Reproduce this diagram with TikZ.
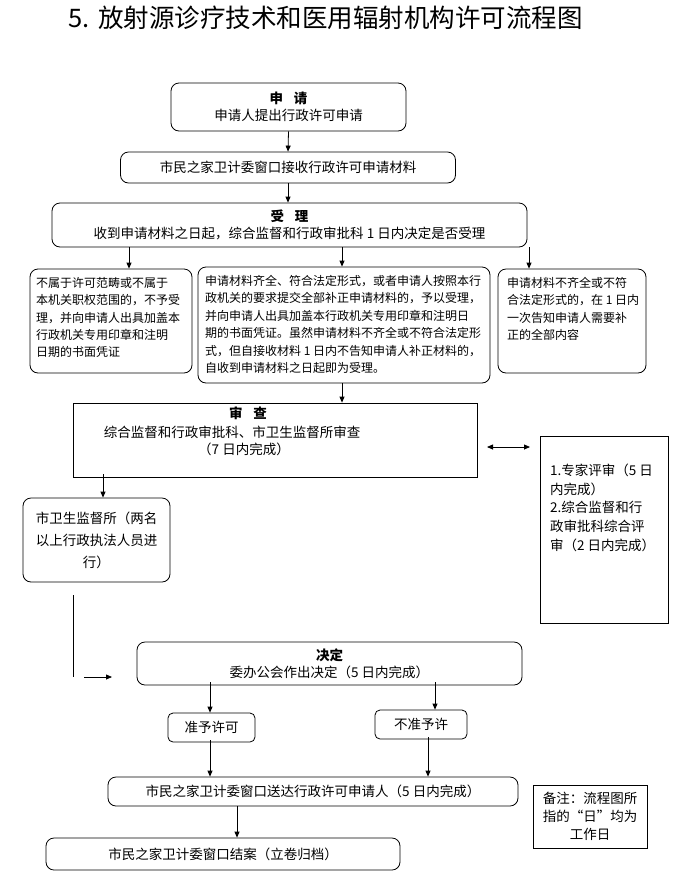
\documentclass[tikz,border=0pt]{standalone}
\usepackage{fontspec}
\setmainfont{Noto Sans CJK SC}
\usetikzlibrary{arrows.meta}
\tikzset{
  box/.style={draw, line width=0.8pt, rounded corners=8pt, inner sep=0pt},
  sbox/.style={draw, line width=0.8pt, inner sep=0pt},
  txt/.style={inner sep=0pt, align=center, font=\fontsize{13.5}{17}\selectfont},
  stxt/.style={inner sep=0pt, align=left, font=\fontsize{12}{17.4}\selectfont},
  arr/.style={line width=0.8pt, -{Triangle[length=6pt,width=5pt]}},
  darr/.style={line width=0.8pt, {Triangle[length=6pt,width=5pt]}-{Triangle[length=6pt,width=5pt]}},
  ln/.style={line width=0.8pt}
}
\begin{document}
\begin{tikzpicture}[x=1pt,y=-1pt]
\useasboundingbox[fill=white] (0,0) rectangle (688,892);

% title
\node[inner sep=0pt, font=\fontsize{25.5}{30}\selectfont] (title) at (325.5,18) {5.\hspace{0.35em}放射源诊疗技术和医用辐射机构许可流程图};

% apply
\node[box, minimum width=235pt, minimum height=48pt, txt] (apply) at (288.5,107)
  {{\bfseries 申\hspace{0.8em}请}\\申请人提出行政许可申请};
% receive
\node[box, minimum width=335pt, minimum height=31pt, txt] (receive) at (288,167.5)
  {市民之家卫计委窗口接收行政许可申请材料};
% accept
\node[box, minimum width=475pt, minimum height=44pt, txt] (accept) at (289.5,225)
  {{\bfseries 受\hspace{0.8em}理}\\收到申请材料之日起，综合监督和行政审批科 1 日内决定是否受理};

% three outcome boxes
\node[box, minimum width=162pt, minimum height=104pt] (left) at (111,321) {};
\node[stxt, anchor=north west] (lefttxt) at (36,277)
  {不属于许可范畴或不属于\\本机关职权范围的，不予受\\理，并向申请人出具加盖本\\行政机关专用印章和注明\\日期的书面凭证};
\node[box, minimum width=292pt, minimum height=116pt] (mid) at (344,325) {};
\node[stxt, anchor=north west] (midtxt) at (205,275)
  {申请材料齐全、符合法定形式，或者申请人按照本行\\政机关的要求提交全部补正申请材料的，予以受理，\\并向申请人出具加盖本行政机关专用印章和注明日\\期的书面凭证。虽然申请材料不齐全或不符合法定形\\式，但自接收材料 1 日内不告知申请人补正材料的，\\自收到申请材料之日起即为受理。};
\node[box, minimum width=148pt, minimum height=104pt] (right) at (572,321) {};
\node[stxt, anchor=north west] (righttxt) at (507,277)
  {申请材料不齐全或不符\\合法定形式的，在 1 日内\\一次告知申请人需要补\\正的全部内容};

% review
\node[sbox, minimum width=404pt, minimum height=74pt] (review) at (275,440) {};
\node[txt, font=\fontsize{13.5}{17}\bfseries] (revhead) at (248,413) {审\hspace{0.8em}查};
\node[txt] (revline) at (232,432) {综合监督和行政审批科、市卫生监督所审查};
\node[txt] (revtime) at (244,449) {（7 日内完成）};

% expert review
\node[sbox, minimum width=128pt, minimum height=187pt] (expert) at (604,529.5) {};
\node[inner sep=0pt, align=left, font=\fontsize{13.5}{18.6}\selectfont, anchor=north west] (experttxt) at (550,464)
  {1.专家评审（5 日\\内完成）\\2.综合监督和行\\政审批科综合评\\审（2 日内完成）};

\coordinate (da1) at (487,447);
\coordinate (da2) at (530,447);
\draw[darr] (da1) -- (da2);

% supervision
\node[box, minimum width=147pt, minimum height=84pt, txt, font=\fontsize{13.5}{22}\selectfont] (supv) at (96.5,540)
  {市卫生监督所（两名\\以上行政执法人员进\\行）};

\coordinate (v1) at (73,595);
\coordinate (v2) at (73,677);
\draw[ln] (v1) -- (v2);
\coordinate (h1) at (84,677);
\coordinate (h2) at (112,677);
\draw[arr] (h1) -- (h2);

% decision
\node[box, minimum width=385pt, minimum height=43pt, txt] (decide) at (329.5,663.5)
  {{\bfseries 决定}\\委办公会作出决定（5 日内完成）};

\node[box, rounded corners=5pt, minimum width=87pt, minimum height=29pt, txt] (approve) at (211.5,727.5) {准予许可};
\node[box, rounded corners=5pt, minimum width=92pt, minimum height=29pt, txt] (reject) at (421,724.5) {不准予许};

\node[box, minimum width=410pt, minimum height=29pt, txt] (deliver) at (313,791.5)
  {市民之家卫计委窗口送达行政许可申请人（5 日内完成）};
\node[box, minimum width=354pt, minimum height=32pt, txt] (close) at (223,854)
  {市民之家卫计委窗口结案（立卷归档）};

\node[sbox, minimum width=114pt, minimum height=63pt, txt, font=\fontsize{13.5}{18}\selectfont] (note) at (590,816.5)
  {备注：流程图所\\指的“日”均为\\工作日};

% arrows
\draw[arr] (apply.south) -- (receive.north);
\draw[arr] (receive.south) -- (receive.south |- accept.north);
\draw[arr] (accept.south -| 129,0) -- (left.north -| 129,0);
\draw[arr] (accept.south -| 342,0) -- (mid.north -| 342,0);
\draw[arr] (accept.south -| 529,0) -- (right.north -| 529,0);
\draw[arr] (mid.south -| 342,0) -- (review.north -| 342,0);
\draw[arr] ([yshift=3pt]review.south -| 103,0) -- (supv.north -| 103,0);
\draw[arr] ([yshift=3pt]decide.south -| 210,0) -- (approve.north -| 210,0);
\draw[arr] ([yshift=3pt]decide.south -| 435,0) -- (reject.north -| 435,0);
\draw[arr] ([yshift=2pt]approve.south -| 210,0) -- (deliver.north -| 210,0);
\draw[arr] ([yshift=2pt]reject.south -| 428,0) -- (deliver.north -| 428,0);
\draw[arr] (deliver.south -| 237,0) -- (close.north -| 237,0);
\end{tikzpicture}
\end{document}
